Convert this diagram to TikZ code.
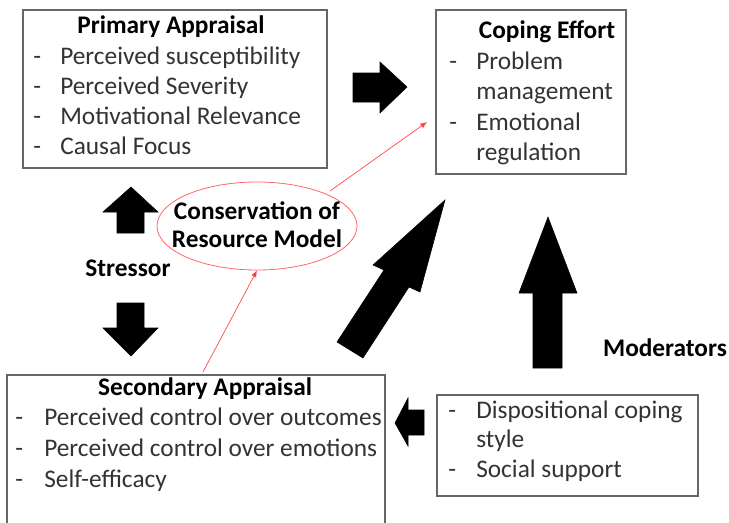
\documentclass[tikz,border=0pt]{standalone}
\usepackage{fontspec}
\setmainfont{Carlito}
\usetikzlibrary{shapes.geometric,arrows.meta}
\begin{document}
\begin{tikzpicture}[x=0.75pt,y=-0.75pt,
  box/.style={draw=black!60,line width=0.8pt,fill=white},
  txt/.style={anchor=west,inner sep=0pt,text height=0.68em,text depth=0.2em,yshift=-3.6pt,
    font=\fontsize{19}{21}\selectfont,text=black!80},
  ttl/.style={inner sep=0pt,text height=0.68em,text depth=0.2em,yshift=-3.6pt,
    font=\fontsize{19}{21}\selectfont\bfseries},
  blockarrow/.style={fill=black,draw=black,line join=miter},
  redlink/.style={draw=red!75,line width=0.5pt,-{Latex[length=5pt,width=4pt]}}]
\useasboundingbox (0,0) rectangle (729,522);

% boxes
\draw[box] (23,10) rectangle (327,168);
\draw[box] (436,10) rectangle (626,174);
\draw[box] (7,375) rectangle (385,524);
\draw[box] (437,395) rectangle (698,496);

% Primary appraisal
\node[ttl] (pa) at (171,25) {Primary Appraisal};
\node[txt] (pa0) at (33,56) {-};
\node[txt] (pa1) at (60,56) {Perceived susceptibility};
\node[txt] (pa2d) at (33,86) {-};
\node[txt] (pa2) at (60,86) {Perceived Severity};
\node[txt] (pa3d) at (33,116) {-};
\node[txt] (pa3) at (60,116) {Motivational Relevance};
\node[txt] (pa4d) at (33,146) {-};
\node[txt] (pa4) at (60,146) {Causal Focus};

% Coping effort
\node[ttl] (ce) at (547,30) {Coping Effort};
\node[txt] (ce1d) at (449,61) {-};
\node[txt] (ce1) at (476,61) {Problem};
\node[txt] (ce1b) at (476,91) {management};
\node[txt] (ce2d) at (449,122) {-};
\node[txt] (ce2) at (476,122) {Emotional};
\node[txt] (ce2b) at (476,152) {regulation};

% Secondary appraisal
\node[ttl] (sa) at (205,387) {Secondary Appraisal};
\node[txt] (sa1d) at (15,417) {-};
\node[txt] (sa1) at (44,417) {Perceived control over outcomes};
\node[txt] (sa2d) at (15,448) {-};
\node[txt] (sa2) at (44,448) {Perceived control over emotions};
\node[txt] (sa3d) at (15,479) {-};
\node[txt] (sa3) at (44,479) {Self-efficacy};

% Moderator box
\node[txt] (md1d) at (448,410) {-};
\node[txt] (md1) at (476,410) {Dispositional coping};
\node[txt] (md1b) at (476,439) {style};
\node[txt] (md2d) at (448,469) {-};
\node[txt] (md2) at (476,469) {Social support};

% free labels
\node[ttl] (stressor) at (128,268) {Stressor};
\node[ttl] (moderators) at (665,348) {Moderators};

% Conservation of resources
\node[draw=red!60,line width=0.6pt,ellipse,minimum width=150pt,minimum height=66pt,inner sep=0pt] (cor) at (257,226) {};
\node[ttl] (corl1) at (257,211) {Conservation of};
\node[ttl] (corl2) at (257,239) {Resource Model};

% red links
\coordinate (saTop) at (203,372);
\coordinate (corNE) at (330,191);
\coordinate (ceIn) at (427,122);
\draw[redlink] (saTop) -- (cor.south);
\draw[redlink] (corNE) -- (ceIn);

% block arrows
% primary -> coping
\fill[blockarrow] (353,73) -- (380,73) -- (380,62) -- (407,87) -- (380,113) -- (380,102) -- (353,102) -- cycle;
% stressor up
\fill[blockarrow] (117,233) -- (117,212) -- (103,212) -- (131,187) -- (158,212) -- (144,212) -- (144,233) -- cycle;
% stressor down
\fill[blockarrow] (117,303) -- (144,303) -- (144,328) -- (158,328) -- (131,356) -- (103,328) -- (117,328) -- cycle;
% secondary -> coping (diagonal)
\fill[blockarrow] (337,342) -- (384,270) -- (373,265) -- (445,200) -- (420,292) -- (409,287) -- (363,358) -- cycle;
% moderators -> coping
\fill[blockarrow] (533,368) -- (533,293) -- (519,293) -- (548,217) -- (577,293) -- (562,293) -- (562,368) -- cycle;
% moderators -> secondary
\fill[blockarrow] (424,410) -- (408,410) -- (408,398) -- (395,423) -- (408,446) -- (408,435) -- (424,435) -- cycle;
\end{tikzpicture}
\end{document}
